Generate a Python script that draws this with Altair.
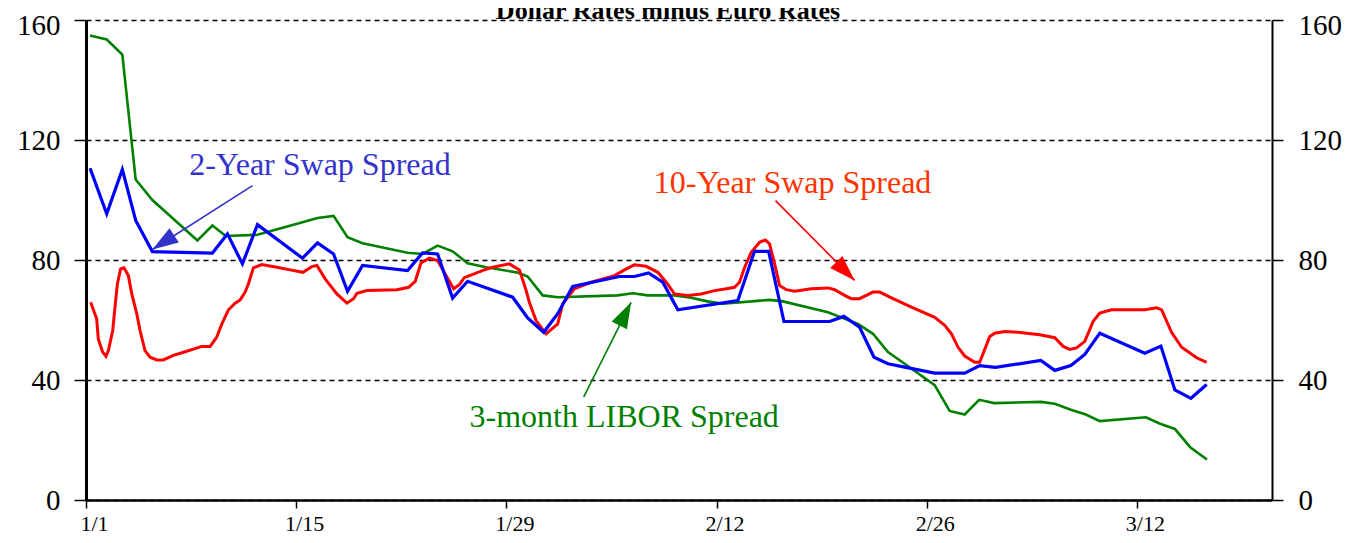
import altair as alt
import pandas as pd

title_text = "Dollar Rates minus Euro Rates"

# x values are days since Jan 1, y values are basis points
libor_day = [0.27, 1.38, 2.42, 3.31, 4.42, 7.42, 8.42, 9.31, 11.42, 14.42, 15.42, 16.49, 17.42, 18.42,
             21.42, 22.42, 23.42, 24.42, 25.42, 26.65, 28.75, 29.42, 30.42, 31.42, 35.42, 36.42, 37.42,
             39.2, 40.31, 41.31, 42.42, 44.53, 45.53, 46.42, 49.42, 51.42, 52.42, 53.42, 54.53, 56.53,
             57.53, 58.53, 59.49, 60.49, 63.6, 64.53, 65.6, 66.6, 67.53, 70.6, 71.55, 72.53, 73.55, 74.67]
libor_val = [154.8, 153.5, 148.5, 106.8, 100, 86.5, 91.5, 88, 88.4, 92.6, 94, 94.7, 87.6, 85.6,
             82.4, 82, 84.8, 82.9, 78.9, 77.6, 75.8, 74.5, 68.2, 67.6, 68.2, 68.9, 68.2,
             68.2, 67.4, 66.3, 65.4, 66.3, 66.7, 66.2, 62.6, 58.7, 55.4, 49.3, 45.4, 38.3,
             29.7, 28.5, 33.4, 32.3, 32.7, 32.1, 30.1, 28.5, 26.3, 27.6, 25.4, 23.7, 17.6, 13.5]

swap2_day = [0.27, 1.38, 2.42, 3.31, 4.42, 8.42, 9.42, 10.42, 11.42, 14.42, 15.42, 16.49, 17.42, 18.42,
             21.42, 22.42, 23.42, 24.42, 25.42, 28.42, 29.42, 30.49, 31.42, 32.42, 35.53, 36.53, 37.47,
             38.42, 39.42, 43.42, 44.53, 45.47, 46.49, 49.53, 50.49, 51.53, 52.49, 53.42, 54.53, 56.53,
             58.53, 59.53, 60.58, 63.6, 64.53, 65.6, 66.53, 67.53, 70.53, 71.6, 72.53, 73.6, 74.65]
swap2_val = [110.6, 95.4, 110.2, 93.2, 82.8, 82.3, 88.7, 78.7, 91.8, 80.6, 85.7, 82, 69.6, 78.2,
             76.5, 82.4, 82, 67.3, 72.9, 67.6, 60.7, 55.9, 62.1, 71.2, 74.5, 74.5, 75.7,
             72.6, 63.4, 66.5, 82.9, 82.9, 59.5, 59.5, 61.2, 57.6, 47.6, 45.4, 44.3, 42.3,
             42.3, 44.8, 44.2, 46.5, 43.2, 44.8, 48.5, 55.6, 48.9, 51.3, 36.7, 33.9, 38.5]

swap10_day = [0.31, 0.71, 0.82, 1.11, 1.33, 1.49, 1.78, 1.93, 2.09, 2.31, 2.53, 2.82, 3.05, 3.38, 3.6,
              3.93, 4.27, 4.71, 5.15, 5.82, 6.71, 7.71, 8.27, 8.71, 9.05, 9.49, 9.93, 10.27, 10.6, 10.82,
              11.15, 11.71, 12.71, 13.6, 14.45, 15.05, 15.38, 15.93, 16.71, 17.38, 17.82, 18.05, 18.71,
              20.71, 21.49, 21.93, 22.31, 22.87, 23.42, 23.98, 24.49, 24.87, 25.2, 26.53, 27.09, 28.2,
              28.87, 29.31, 29.53, 29.98, 30.65, 31.42, 31.75, 32.53, 33.65, 35.2, 35.87, 36.53, 37.31,
              38.09, 38.65, 39.2, 40.09, 40.98, 41.87, 42.65, 43.2, 43.53, 43.87, 44.31, 44.87, 45.25,
              45.53, 45.87, 46.2, 46.65, 47.2, 48.31, 49.42, 49.87, 50.53, 50.98, 51.53, 52.42, 52.87,
              53.65, 54.98, 56.53, 57.2, 57.65, 58.09, 58.53, 59.2, 59.53, 60.2, 60.53, 61.2, 62.09,
              63.53, 64.53, 65.09, 65.53, 65.98, 66.53, 67.09, 67.53, 68.31, 70.53, 71.31, 71.65, 72.31,
              72.98, 73.98, 74.65]
swap10_val = [65.9, 60.4, 53.7, 49.3, 47.9, 49.8, 56.5, 64.3, 72, 77.1, 77.4, 74.8, 68.7, 62.1, 56.5,
              49.8, 47.6, 46.7, 46.7, 48.2, 49.6, 51.2, 51.2, 54.3, 58.7, 63.4, 65.6, 66.7, 69.3, 72.1,
              77.4, 78.5, 77.6, 76.7, 75.9, 77.8, 78.2, 73.7, 68.7, 65.6, 67.1, 68.9, 69.8,
              70.1, 70.9, 72.9, 79, 80.6, 79.8, 74.8, 70.4, 71.8, 74.1, 76.7, 77.6, 78.7,
              76.7, 70, 65.9, 59.8, 55.4, 58.7, 65.4, 70.4, 72.6, 74.8, 76.7, 78.4, 77.9,
              75.9, 72.6, 68.7, 68.2, 68.7, 69.8, 70.4, 70.9, 72.6, 77.5, 82.6, 85.9, 86.7,
              85.4, 78.7, 71.5, 70.1, 69.6, 70.4, 70.7, 70.1, 68.2, 67.1, 67.1, 69.3, 69.3,
              67.4, 64.3, 60.9, 58.2, 55.4, 50.9, 48, 45.9, 45.9, 54.5, 55.6, 56.2, 55.9,
              55.1, 54.1, 51.2, 50.2, 50.7, 52.9, 59.6, 62.3, 63.4, 63.4, 64.1, 63.4, 55.9,
              50.9, 47.4, 45.9]

tick_days = [0, 14, 28, 42, 56, 70]
tick_labels = ["1/1", "1/15", "1/29", "2/12", "2/26", "3/12"]
y_ticks = [0, 40, 80, 120, 160]

ann_text = ["2-Year Swap Spread", "10-Year Swap Spread", "3-month LIBOR Spread"]
ann_text_day = [6.87, 37.82, 25.55]
ann_text_val = [108.5, 102.2, 24.3]
ann_from_day = [11.09, 45.93, 33.15]
ann_from_val = [104.8, 99.8, 34.3]
ann_to_day = [4.42, 51.2, 36.31]
ann_to_val = [83.5, 73.2, 65.9]
ann_angle = [237, 135, 27]
ann_text_color = ["#3333CC", "#FF3300", "#008000"]
ann_arrow_color = ["#3333CC", "#FF0000", "#008000"]

FONT = "Liberation Serif"

libor_df = pd.DataFrame({"day": libor_day, "bp": libor_val})
swap2_df = pd.DataFrame({"day": swap2_day, "bp": swap2_val})
swap10_df = pd.DataFrame({"day": swap10_day, "bp": swap10_val})
ann_df = pd.DataFrame({
    "text": ann_text, "tday": ann_text_day, "tval": ann_text_val,
    "fday": ann_from_day, "fval": ann_from_val,
    "aday": ann_to_day, "aval": ann_to_val,
    "angle": ann_angle, "tcolor": ann_text_color, "acolor": ann_arrow_color,
})
title_df = pd.DataFrame({"title": [title_text]})

label_expr = " : ".join(f"datum.value == {d} ? '{l}'" for d, l in zip(tick_days, tick_labels)) + " : ''"

xscale = alt.Scale(domain=[0, 79], nice=False, zero=False)
yscale = alt.Scale(domain=[0, 160], nice=False, zero=True)

# keep the top tick label inside the picture
top_label_offset = {"condition": {"test": f"datum.value == {max(y_ticks)}", "value": 5.5}, "value": 0}


def x_axis():
    return alt.Axis(values=tick_days, labelExpr=label_expr, title=None, grid=False, orient="bottom",
                    domainColor="black", domainWidth=2.5, tickColor="black", tickWidth=1.5,
                    tickSize=8, labelFont=FONT, labelFontSize=22, labelColor="black",
                    labelOffset=8, labelPadding=5, labelAngle=0, labelFlush=False)


y_left = alt.Axis(values=y_ticks, orient="left", title=None, grid=True, gridDash=[5, 4],
                  gridColor="black", gridWidth=1.5, gridOpacity=1, domainColor="black",
                  domainWidth=3, tickColor="black", tickWidth=1.5, tickSize=12,
                  labelFont=FONT, labelFontSize=29, labelColor="black", labelPadding=14, format="d",
                  labelOffset=top_label_offset, labelFlush=False)
y_right = alt.Axis(values=y_ticks, orient="right", title=None, grid=False, domainColor="black",
                   domainWidth=2, tickColor="black", tickWidth=1.5, tickSize=11,
                   labelFont=FONT, labelFontSize=29, labelColor="black", labelPadding=15, format="d",
                   labelOffset=top_label_offset, labelFlush=False)

green = alt.Chart(libor_df).mark_line(color="#008000", strokeWidth=2.6).encode(
    x=alt.X("day:Q", scale=xscale, axis=x_axis()),
    y=alt.Y("bp:Q", scale=yscale, axis=y_left),
)
red = alt.Chart(swap10_df).mark_line(color="#FF0000", strokeWidth=3).encode(
    x=alt.X("day:Q", scale=xscale, axis=x_axis()),
    y=alt.Y("bp:Q", scale=yscale, axis=None),
)
blue = alt.Chart(swap2_df).mark_line(color="#0000FF", strokeWidth=3.2).encode(
    x=alt.X("day:Q", scale=xscale, axis=x_axis()),
    y=alt.Y("bp:Q", scale=yscale, axis=y_right),
)

shafts = alt.Chart(ann_df).mark_rule(strokeWidth=1.6).encode(
    x=alt.X("fday:Q", scale=xscale, axis=x_axis()),
    y=alt.Y("fval:Q", scale=yscale, axis=None),
    x2="aday:Q", y2="aval:Q",
    color=alt.Color("acolor:N", scale=None),
)
heads = alt.Chart(ann_df).mark_point(
    shape="M0,0L-0.33,1L0.33,1Z", filled=True, size=2704, opacity=1, strokeWidth=0
).encode(
    x=alt.X("aday:Q", scale=xscale, axis=x_axis()),
    y=alt.Y("aval:Q", scale=yscale, axis=None),
    angle=alt.Angle("angle:Q", scale=None),
    color=alt.Color("acolor:N", scale=None),
)
labels = alt.Chart(ann_df).mark_text(
    font=FONT, fontSize=32, align="left", baseline="alphabetic"
).encode(
    x=alt.X("tday:Q", scale=xscale, axis=x_axis()),
    y=alt.Y("tval:Q", scale=yscale, axis=None),
    text="text:N",
    color=alt.Color("tcolor:N", scale=None),
)
title = alt.Chart(title_df).mark_text(
    font=FONT, fontSize=26, fontWeight="bold", align="center", baseline="alphabetic", color="black"
).encode(
    x=alt.value(582), y=alt.value(-1.5), text="title:N"
)

chart = alt.layer(green, red, blue, shafts, heads, labels, title).resolve_axis(
    y="independent"
).properties(
    width=1186, height=480,
    autosize=alt.AutoSizeParams(type="none"),
    padding={"left": 78, "top": 12, "right": 70, "bottom": 35},
    background="white",
).configure_view(stroke=None)

chart.save("out.html", embed_options={"renderer": "svg", "actions": False})
